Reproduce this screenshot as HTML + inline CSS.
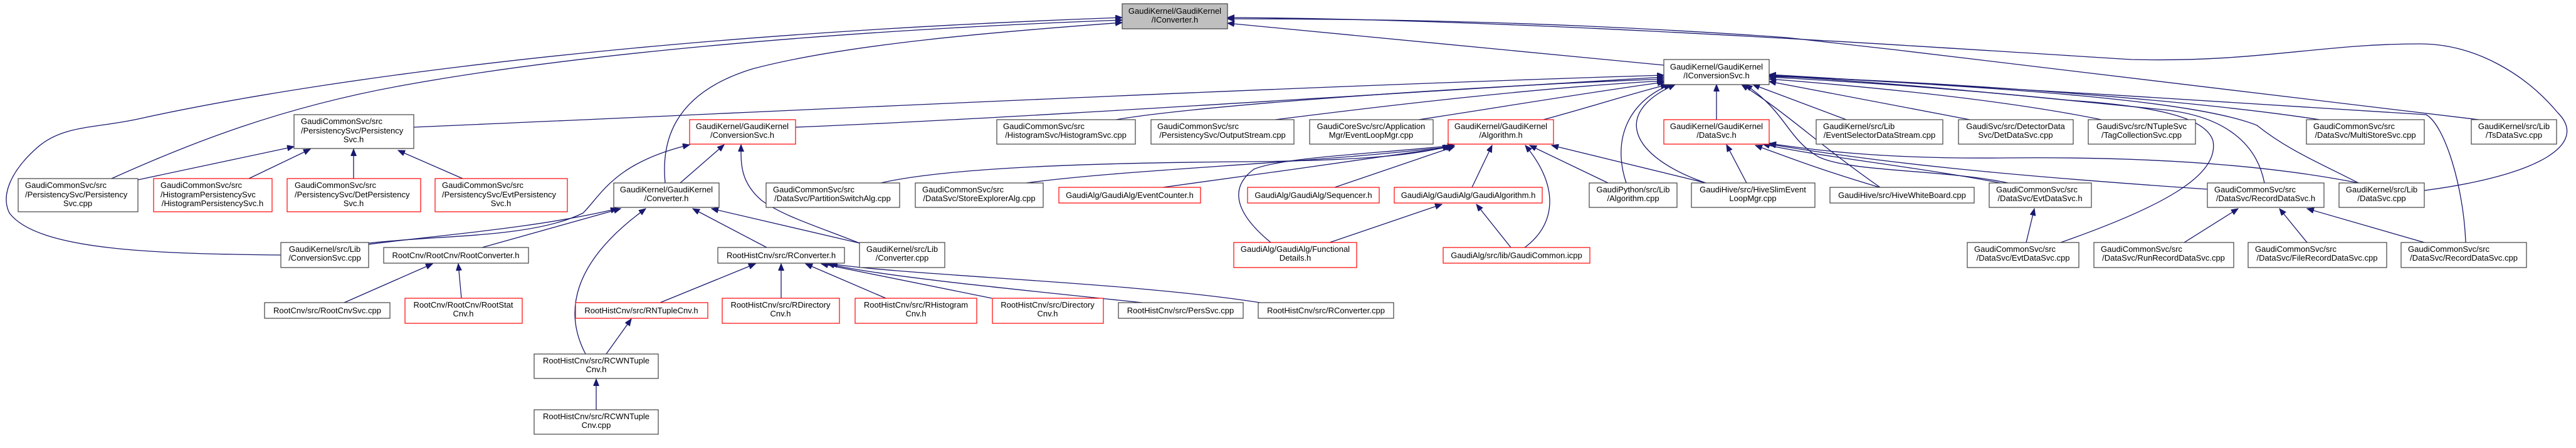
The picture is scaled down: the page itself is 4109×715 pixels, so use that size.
<!DOCTYPE html>
<html><head><meta charset="utf-8"><style>
html,body{margin:0;padding:0;background:#fff;}
svg{display:block;}
text{font-family:"Liberation Sans",Arial,sans-serif;font-size:13px;fill:#000;}
.e{fill:none;stroke:#191970;stroke-width:1.3;marker-end:url(#a);}
.b{fill:#fff;stroke:#404040;stroke-width:1.2;}
.r{fill:#fff;stroke:#ff0000;stroke-width:1.2;}
.g{fill:#bfbfbf;stroke:#404040;stroke-width:1.2;}
</style></head><body>
<svg width="4109" height="715" viewBox="0 0 4109 715" xmlns="http://www.w3.org/2000/svg">
<defs><marker id="a" markerUnits="userSpaceOnUse" markerWidth="12" markerHeight="10" refX="11" refY="4.5" orient="auto"><path d="M0,0 L11,4.5 L0,9 z" fill="#191970" stroke="#191970"/></marker></defs>
<g>
<!-- to IConverter -->
<path class="e" d="M448,407 C250,405 60,400 15,340 C0,310 20,270 60,235 C100,200 150,205 220,190 C400,150 900,60 1790,28"/>
<path class="e" d="M178,285 C300,230 450,170 650,135 C900,90 1300,50 1790,32"/>
<path class="e" d="M1061,292 C1055,230 1070,150 1200,110 C1350,70 1600,50 1790,36"/>
<path class="e" d="M2654,104 L1958,37"/>
<path class="e" d="M3867,304 C4050,280 4130,230 4080,180 C4030,120 3950,70 3860,70 C3700,70 3600,100 3400,95 C3000,70 2400,30 1958,28"/>
<path class="e" d="M3954,191 C3800,170 3300,110 2850,60 C2500,35 2200,30 1958,30"/>
<!-- to IConversionSvc -->
<path class="e" d="M660,203 C1200,180 2000,140 2654,120"/>
<path class="e" d="M1269,203 C1600,190 2200,150 2654,123"/>
<path class="e" d="M1780,191 C1900,170 2300,140 2654,126"/>
<path class="e" d="M2034,191 C2200,170 2450,140 2654,129"/>
<path class="e" d="M2263,191 C2400,170 2550,145 2655,131"/>
<path class="e" d="M2462,191 C2540,170 2600,150 2660,135"/>
<path class="e" d="M2594,292 C2570,220 2600,160 2665,135"/>
<path class="e" d="M2721,292 C2600,250 2570,180 2672,135"/>
<path class="e" d="M2738,191 L2738,135"/>
<path class="e" d="M2945,191 L2796,135"/>
<path class="e" d="M2999,299 C2900,230 2850,180 2778,135"/>
<path class="e" d="M3142,191 L2822,130"/>
<path class="e" d="M3352,191 C3200,160 3000,140 2822,126"/>
<path class="e" d="M3700,191 C3500,160 3100,130 2822,122"/>
<path class="e" d="M3612,292 C3600,230 3550,185 3450,175 C3200,150 3000,130 2822,121"/>
<path class="e" d="M3762,292 C3700,260 3650,240 3600,200 C3500,160 3200,140 2822,120"/>
<path class="e" d="M3933,387 C3930,300 3900,200 3870,183 C3500,160 3200,140 2822,119"/>
<path class="e" d="M3287,387 C3450,330 3540,280 3530,225 C3520,190 3450,170 3300,160 C3100,140 2950,130 2822,123"/>
<path class="e" d="M3203,292 C3100,270 2950,275 2900,250 C2850,220 2850,180 2784,135"/>
<!-- to DataSvc.h -->
<path class="e" d="M2786,292 L2754,231"/>
<path class="e" d="M2998,299 C2900,270 2850,250 2800,232"/>
<path class="e" d="M3191,292 C3050,265 2900,250 2812,230"/>
<path class="e" d="M3521,302 C3200,280 3000,260 2822,230"/>
<path class="e" d="M3762,292 C3600,260 3400,250 3200,252 C3000,254 2900,240 2822,229"/>
<!-- to Algorithm.h -->
<path class="e" d="M1405,292 C1500,270 1700,260 2000,258 C2150,256 2250,250 2312,233"/>
<path class="e" d="M1637,292 C1800,270 2100,260 2314,234"/>
<path class="e" d="M1855,299 C2000,280 2200,250 2318,234"/>
<path class="e" d="M2129,299 L2320,234"/>
<path class="e" d="M2348,299 L2380,232"/>
<path class="e" d="M2027,387 C1970,340 1960,300 2000,270 C2050,250 2200,245 2320,232"/>
<path class="e" d="M2432,395 C2480,360 2490,300 2433,232"/>
<path class="e" d="M2565,292 L2440,232"/>
<path class="e" d="M2721,292 L2475,232"/>
<!-- to GaudiAlgorithm.h -->
<path class="e" d="M2121,387 L2300,326"/>
<path class="e" d="M2410,395 L2355,326"/>
<!-- to PersistencySvc.h -->
<path class="e" d="M220,287 L469,234"/>
<path class="e" d="M397,285 L495,238"/>
<path class="e" d="M564,285 L564,238"/>
<path class="e" d="M738,285 L635,240"/>
<!-- to ConversionSvc.h -->
<path class="e" d="M1085,292 L1155,231"/>
<path class="e" d="M588,388 C700,375 850,380 930,340 C960,310 980,260 1100,231"/>
<path class="e" d="M1371,388 C1300,360 1250,345 1215,320 C1180,290 1182,260 1182,231"/>
<!-- to Converter.h -->
<path class="e" d="M588,390 C700,375 850,365 985,333"/>
<path class="e" d="M769,395 L990,333"/>
<path class="e" d="M934,565 C900,500 910,420 1030,333"/>
<path class="e" d="M1223,395 L1105,333"/>
<path class="e" d="M1371,388 L1135,333"/>
<!-- to RootConverter.h -->
<path class="e" d="M549,483 L690,421"/>
<path class="e" d="M736,476 L731,421"/>
<!-- to RConverter.h -->
<path class="e" d="M1053,483 L1205,421"/>
<path class="e" d="M1246,476 L1246,421"/>
<path class="e" d="M1413,476 L1285,421"/>
<path class="e" d="M1582,476 L1310,421"/>
<path class="e" d="M1822,483 C1600,460 1400,440 1320,421"/>
<path class="e" d="M2010,483 C1800,450 1450,440 1325,421"/>
<path class="e" d="M967,565 L1007,509"/>
<path class="e" d="M951,654 L951,605"/>
<!-- data svc -->
<path class="e" d="M3232,387 L3245,333"/>
<path class="e" d="M3484,387 L3570,333"/>
<path class="e" d="M3680,387 L3636,333"/>
<path class="e" d="M3867,387 L3680,333"/>
</g>
<g>
<rect class="g" x="1790" y="6" width="168" height="40"/><text x="1874" y="22" text-anchor="middle">GaudiKernel/GaudiKernel</text><text x="1874" y="36" text-anchor="middle">/IConverter.h</text>
<rect class="b" x="2654" y="95" width="168" height="40"/><text x="2738" y="111" text-anchor="middle">GaudiKernel/GaudiKernel</text><text x="2738" y="125" text-anchor="middle">/IConversionSvc.h</text>
<rect class="b" x="469" y="183" width="191" height="54"/><text x="480" y="198">GaudiCommonSvc/src</text><text x="480" y="213">/PersistencySvc/Persistency</text><text x="564" y="227" text-anchor="middle">Svc.h</text>
<rect class="r" x="1100" y="191" width="169" height="39"/><text x="1184" y="206" text-anchor="middle">GaudiKernel/GaudiKernel</text><text x="1184" y="220" text-anchor="middle">/ConversionSvc.h</text>
<rect class="b" x="1590" y="191" width="221" height="39"/><text x="1600" y="206">GaudiCommonSvc/src</text><text x="1700" y="220" text-anchor="middle">/HistogramSvc/HistogramSvc.cpp</text>
<rect class="b" x="1836" y="191" width="228" height="39"/><text x="1846" y="206">GaudiCommonSvc/src</text><text x="1950" y="220" text-anchor="middle">/PersistencySvc/OutputStream.cpp</text>
<rect class="b" x="2089" y="191" width="197" height="39"/><text x="2187" y="206" text-anchor="middle">GaudiCoreSvc/src/Application</text><text x="2187" y="220" text-anchor="middle">Mgr/EventLoopMgr.cpp</text>
<rect class="r" x="2310" y="191" width="168" height="39"/><text x="2394" y="206" text-anchor="middle">GaudiKernel/GaudiKernel</text><text x="2394" y="220" text-anchor="middle">/Algorithm.h</text>
<rect class="r" x="2654" y="191" width="168" height="39"/><text x="2738" y="206" text-anchor="middle">GaudiKernel/GaudiKernel</text><text x="2738" y="220" text-anchor="middle">/DataSvc.h</text>
<rect class="b" x="2897" y="191" width="202" height="39"/><text x="2908" y="206">GaudiKernel/src/Lib</text><text x="2998" y="220" text-anchor="middle">/EventSelectorDataStream.cpp</text>
<rect class="b" x="3124" y="191" width="183" height="39"/><text x="3215" y="206" text-anchor="middle">GaudiSvc/src/DetectorData</text><text x="3215" y="220" text-anchor="middle">Svc/DetDataSvc.cpp</text>
<rect class="b" x="3331" y="191" width="171" height="39"/><text x="3416" y="206" text-anchor="middle">GaudiSvc/src/NTupleSvc</text><text x="3416" y="220" text-anchor="middle">/TagCollectionSvc.cpp</text>
<rect class="b" x="3679" y="191" width="188" height="39"/><text x="3690" y="206">GaudiCommonSvc/src</text><text x="3773" y="220" text-anchor="middle">/DataSvc/MultiStoreSvc.cpp</text>
<rect class="b" x="3942" y="191" width="136" height="39"/><text x="4010" y="206" text-anchor="middle">GaudiKernel/src/Lib</text><text x="4010" y="220" text-anchor="middle">/TsDataSvc.cpp</text>
<rect class="b" x="29" y="285" width="191" height="53"/><text x="40" y="300">GaudiCommonSvc/src</text><text x="40" y="315">/PersistencySvc/Persistency</text><text x="124" y="329" text-anchor="middle">Svc.cpp</text>
<rect class="r" x="245" y="285" width="189" height="53"/><text x="256" y="300">GaudiCommonSvc/src</text><text x="256" y="315">/HistogramPersistencySvc</text><text x="339" y="329" text-anchor="middle">/HistogramPersistencySvc.h</text>
<rect class="r" x="458" y="285" width="213" height="53"/><text x="470" y="300">GaudiCommonSvc/src</text><text x="470" y="315">/PersistencySvc/DetPersistency</text><text x="564" y="329" text-anchor="middle">Svc.h</text>
<rect class="r" x="694" y="285" width="211" height="53"/><text x="705" y="300">GaudiCommonSvc/src</text><text x="705" y="315">/PersistencySvc/EvtPersistency</text><text x="799" y="329" text-anchor="middle">Svc.h</text>
<rect class="b" x="979" y="292" width="168" height="39"/><text x="1063" y="307" text-anchor="middle">GaudiKernel/GaudiKernel</text><text x="1063" y="321" text-anchor="middle">/Converter.h</text>
<rect class="b" x="1222" y="292" width="213" height="39"/><text x="1233" y="307">GaudiCommonSvc/src</text><text x="1328" y="321" text-anchor="middle">/DataSvc/PartitionSwitchAlg.cpp</text>
<rect class="b" x="1460" y="292" width="204" height="39"/><text x="1471" y="307">GaudiCommonSvc/src</text><text x="1562" y="321" text-anchor="middle">/DataSvc/StoreExplorerAlg.cpp</text>
<rect class="r" x="1689" y="299" width="226" height="25"/><text x="1802" y="316" text-anchor="middle">GaudiAlg/GaudiAlg/EventCounter.h</text>
<rect class="r" x="1990" y="299" width="210" height="25"/><text x="2095" y="316" text-anchor="middle">GaudiAlg/GaudiAlg/Sequencer.h</text>
<rect class="r" x="2224" y="299" width="236" height="25"/><text x="2342" y="316" text-anchor="middle">GaudiAlg/GaudiAlg/GaudiAlgorithm.h</text>
<rect class="b" x="2535" y="292" width="140" height="39"/><text x="2605" y="307" text-anchor="middle">GaudiPython/src/Lib</text><text x="2605" y="321" text-anchor="middle">/Algorithm.cpp</text>
<rect class="b" x="2698" y="292" width="197" height="39"/><text x="2796" y="307" text-anchor="middle">GaudiHive/src/HiveSlimEvent</text><text x="2796" y="321" text-anchor="middle">LoopMgr.cpp</text>
<rect class="b" x="2919" y="299" width="230" height="25"/><text x="3034" y="316" text-anchor="middle">GaudiHive/src/HiveWhiteBoard.cpp</text>
<rect class="b" x="3173" y="292" width="163" height="39"/><text x="3184" y="307">GaudiCommonSvc/src</text><text x="3254" y="321" text-anchor="middle">/DataSvc/EvtDataSvc.h</text>
<rect class="b" x="3521" y="292" width="186" height="39"/><text x="3532" y="307">GaudiCommonSvc/src</text><text x="3614" y="321" text-anchor="middle">/DataSvc/RecordDataSvc.h</text>
<rect class="b" x="3731" y="292" width="136" height="39"/><text x="3799" y="307" text-anchor="middle">GaudiKernel/src/Lib</text><text x="3799" y="321" text-anchor="middle">/DataSvc.cpp</text>
<rect class="b" x="448" y="387" width="140" height="40"/><text x="518" y="402" text-anchor="middle">GaudiKernel/src/Lib</text><text x="518" y="416" text-anchor="middle">/ConversionSvc.cpp</text>
<rect class="b" x="612" y="395" width="231" height="25"/><text x="727" y="412" text-anchor="middle">RootCnv/RootCnv/RootConverter.h</text>
<rect class="b" x="1145" y="395" width="202" height="25"/><text x="1246" y="412" text-anchor="middle">RootHistCnv/src/RConverter.h</text>
<rect class="b" x="1371" y="387" width="136" height="40"/><text x="1439" y="402" text-anchor="middle">GaudiKernel/src/Lib</text><text x="1439" y="416" text-anchor="middle">/Converter.cpp</text>
<rect class="r" x="1968" y="387" width="196" height="40"/><text x="2066" y="402" text-anchor="middle">GaudiAlg/GaudiAlg/Functional</text><text x="2066" y="416" text-anchor="middle">Details.h</text>
<rect class="r" x="2302" y="395" width="234" height="25"/><text x="2419" y="412" text-anchor="middle">GaudiAlg/src/lib/GaudiCommon.icpp</text>
<rect class="b" x="3138" y="387" width="178" height="40"/><text x="3149" y="402">GaudiCommonSvc/src</text><text x="3227" y="416" text-anchor="middle">/DataSvc/EvtDataSvc.cpp</text>
<rect class="b" x="3340" y="387" width="223" height="40"/><text x="3351" y="402">GaudiCommonSvc/src</text><text x="3451" y="416" text-anchor="middle">/DataSvc/RunRecordDataSvc.cpp</text>
<rect class="b" x="3586" y="387" width="221" height="40"/><text x="3597" y="402">GaudiCommonSvc/src</text><text x="3696" y="416" text-anchor="middle">/DataSvc/FileRecordDataSvc.cpp</text>
<rect class="b" x="3830" y="387" width="200" height="40"/><text x="3841" y="402">GaudiCommonSvc/src</text><text x="3930" y="416" text-anchor="middle">/DataSvc/RecordDataSvc.cpp</text>
<rect class="b" x="422" y="483" width="200" height="25"/><text x="522" y="500" text-anchor="middle">RootCnv/src/RootCnvSvc.cpp</text>
<rect class="r" x="646" y="476" width="187" height="40"/><text x="739" y="491" text-anchor="middle">RootCnv/RootCnv/RootStat</text><text x="739" y="505" text-anchor="middle">Cnv.h</text>
<rect class="r" x="918" y="483" width="211" height="25"/><text x="1023" y="500" text-anchor="middle">RootHistCnv/src/RNTupleCnv.h</text>
<rect class="r" x="1152" y="476" width="187" height="40"/><text x="1245" y="491" text-anchor="middle">RootHistCnv/src/RDirectory</text><text x="1245" y="505" text-anchor="middle">Cnv.h</text>
<rect class="r" x="1364" y="476" width="194" height="40"/><text x="1461" y="491" text-anchor="middle">RootHistCnv/src/RHistogram</text><text x="1461" y="505" text-anchor="middle">Cnv.h</text>
<rect class="r" x="1583" y="476" width="177" height="40"/><text x="1671" y="491" text-anchor="middle">RootHistCnv/src/Directory</text><text x="1671" y="505" text-anchor="middle">Cnv.h</text>
<rect class="b" x="1784" y="483" width="199" height="25"/><text x="1883" y="500" text-anchor="middle">RootHistCnv/src/PersSvc.cpp</text>
<rect class="b" x="2007" y="483" width="216" height="25"/><text x="2115" y="500" text-anchor="middle">RootHistCnv/src/RConverter.cpp</text>
<rect class="b" x="852" y="565" width="198" height="39"/><text x="951" y="580" text-anchor="middle">RootHistCnv/src/RCWNTuple</text><text x="951" y="594" text-anchor="middle">Cnv.h</text>
<rect class="b" x="852" y="654" width="198" height="39"/><text x="951" y="669" text-anchor="middle">RootHistCnv/src/RCWNTuple</text><text x="951" y="683" text-anchor="middle">Cnv.cpp</text>
</g>
</svg>
</body></html>
